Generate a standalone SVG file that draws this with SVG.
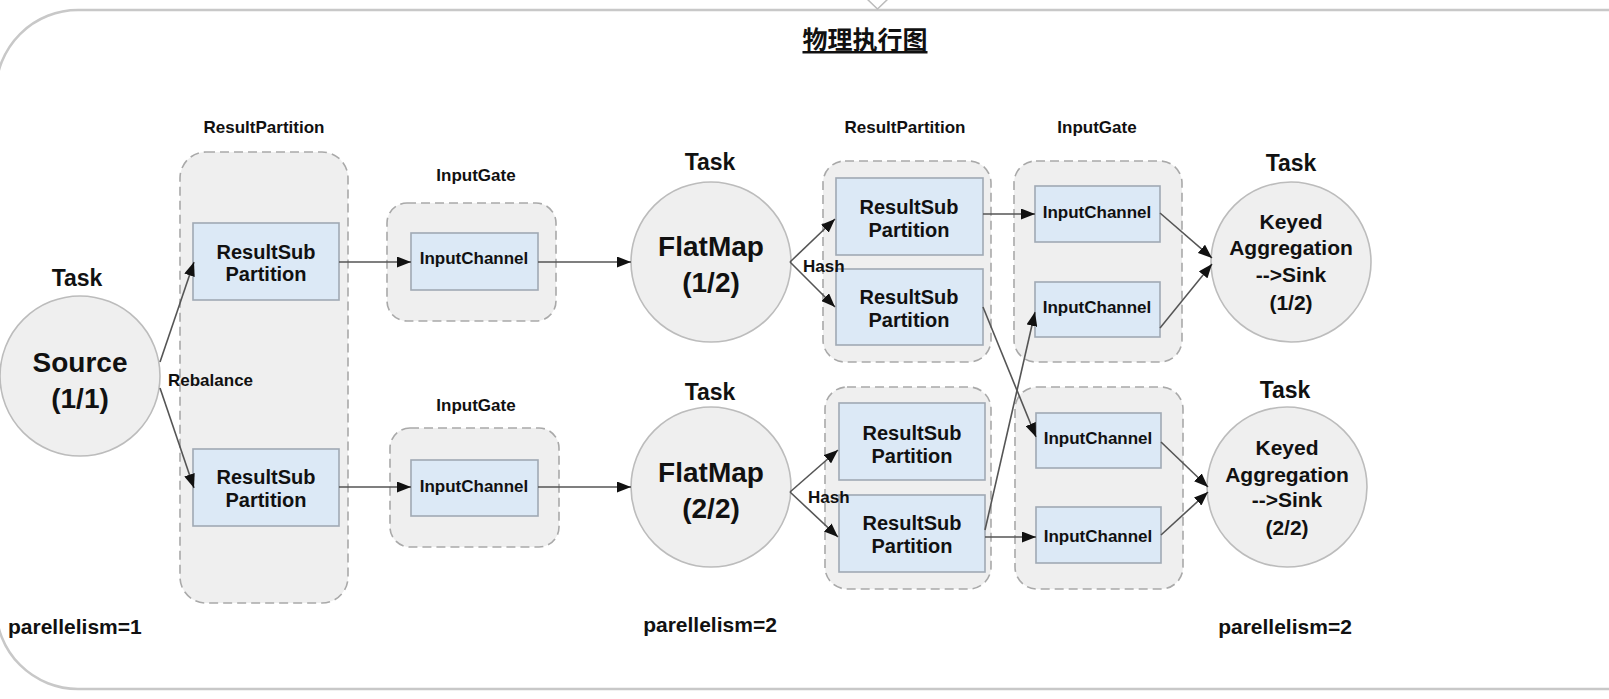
<svg xmlns="http://www.w3.org/2000/svg" width="1609" height="699" viewBox="0 0 1609 699">
<defs>
<style>
text{font-family:"Liberation Sans",Arial,"Noto Sans CJK SC",sans-serif;font-weight:bold;fill:#111;text-anchor:middle}
.frame{fill:#fff;stroke:#c8c8c8;stroke-width:2.5}
.cont{fill:#efefef;stroke:#a9a9a9;stroke-width:1.6;stroke-dasharray:9 5}
.box{fill:#dce9f6;stroke:#a0a9b4;stroke-width:1.6}
.circ{fill:#efefef;stroke:#bcbcbc;stroke-width:1.6}
.lbl{font-size:17px}
.task{font-size:23px}
.big{font-size:28px}
.rs{font-size:20px}
.ic{font-size:17px}
.ka{font-size:21px}
.par{font-size:21px}
.conn path{fill:none;stroke:#555;stroke-width:1.6;marker-end:url(#ah)}
</style>
<marker id="ah" viewBox="0 0 14 11" refX="14" refY="5.5" markerWidth="14" markerHeight="11" orient="auto" markerUnits="userSpaceOnUse">
<path d="M0,0 L14,5.5 L0,11 z" fill="#111"/>
</marker>
</defs>
<rect width="1609" height="699" fill="#fff"/>
<rect class="frame" x="-4" y="10" width="1800" height="679" rx="82" ry="82"/>
<polygon points="866,-2 889,-2 877.5,9" fill="#fff" stroke="#bcbcbc" stroke-width="1.5"/>
<text x="865" y="49" style="font-size:25px;text-decoration:underline">物理执行图</text>

<g id="source">
<text class="task" x="77" y="286">Task</text>
<circle class="circ" cx="80" cy="376" r="80"/>
<text class="big" x="80" y="372">Source</text>
<text class="big" x="80" y="408">(1/1)</text>
</g>

<g id="rp1">
<text class="lbl" x="264" y="133">ResultPartition</text>
<rect class="cont" x="180" y="152" width="168" height="451" rx="26"/>
</g>
<g id="rs1">
<rect class="box" x="193" y="223" width="146" height="77"/>
<text class="rs" x="266" y="259">ResultSub</text>
<text class="rs" x="266" y="281">Partition</text>
</g>
<g id="rs2">
<rect class="box" x="193" y="449" width="146" height="77"/>
<text class="rs" x="266" y="484">ResultSub</text>
<text class="rs" x="266" y="507">Partition</text>
</g>

<g id="ig1">
<text class="lbl" x="476" y="181">InputGate</text>
<rect class="cont" x="387" y="203" width="169" height="118" rx="20"/>
<rect class="box" x="411" y="233" width="127" height="57"/>
<text class="ic" x="474" y="264">InputChannel</text>
</g>
<g id="ig2">
<text class="lbl" x="476" y="411">InputGate</text>
<rect class="cont" x="390" y="428" width="169" height="119" rx="20"/>
<rect class="box" x="411" y="460" width="127" height="56"/>
<text class="ic" x="474" y="492">InputChannel</text>
</g>

<g id="flatmap1">
<text class="task" x="710" y="170">Task</text>
<circle class="circ" cx="711" cy="262" r="80"/>
<text class="big" x="711" y="256">FlatMap</text>
<text class="big" x="711" y="292">(1/2)</text>
</g>
<g id="flatmap2">
<text class="task" x="710" y="400">Task</text>
<circle class="circ" cx="711" cy="487" r="80"/>
<text class="big" x="711" y="482">FlatMap</text>
<text class="big" x="711" y="518">(2/2)</text>
</g>

<g id="rp2">
<text class="lbl" x="905" y="133">ResultPartition</text>
<rect class="cont" x="823" y="161" width="168" height="201" rx="22"/>
<rect class="box" x="836" y="178" width="147" height="77"/>
<text class="rs" x="909" y="214">ResultSub</text>
<text class="rs" x="909" y="237">Partition</text>
<rect class="box" x="836" y="269" width="147" height="76"/>
<text class="rs" x="909" y="304">ResultSub</text>
<text class="rs" x="909" y="327">Partition</text>
</g>
<g id="rp3">
<rect class="cont" x="825" y="387" width="166" height="202" rx="22"/>
<rect class="box" x="839" y="403" width="146" height="77"/>
<text class="rs" x="912" y="440">ResultSub</text>
<text class="rs" x="912" y="463">Partition</text>
<rect class="box" x="839" y="495" width="146" height="77"/>
<text class="rs" x="912" y="530">ResultSub</text>
<text class="rs" x="912" y="553">Partition</text>
</g>

<g id="ig3">
<text class="lbl" x="1097" y="133">InputGate</text>
<rect class="cont" x="1014" y="161" width="168" height="201" rx="22"/>
<rect class="box" x="1035" y="186" width="125" height="56"/>
<text class="ic" x="1097" y="218">InputChannel</text>
<rect class="box" x="1035" y="282" width="125" height="55"/>
<text class="ic" x="1097" y="313">InputChannel</text>
</g>
<g id="ig4">
<rect class="cont" x="1015" y="387" width="168" height="202" rx="22"/>
<rect class="box" x="1036" y="413" width="125" height="55"/>
<text class="ic" x="1098" y="444">InputChannel</text>
<rect class="box" x="1036" y="507" width="125" height="56"/>
<text class="ic" x="1098" y="542">InputChannel</text>
</g>

<g id="keyed1">
<text class="task" x="1291" y="171">Task</text>
<circle class="circ" cx="1291" cy="262" r="80"/>
<text class="ka" x="1291" y="229">Keyed</text>
<text class="ka" x="1291" y="255">Aggregation</text>
<text class="ka" x="1291" y="282">--&gt;Sink</text>
<text class="ka" x="1291" y="310">(1/2)</text>
</g>
<g id="keyed2">
<text class="task" x="1285" y="398">Task</text>
<circle class="circ" cx="1287" cy="487" r="80"/>
<text class="ka" x="1287" y="455">Keyed</text>
<text class="ka" x="1287" y="482">Aggregation</text>
<text class="ka" x="1287" y="507">--&gt;Sink</text>
<text class="ka" x="1287" y="535">(2/2)</text>
</g>

<g class="conn" id="connectors">
<path d="M160,362 L194,262"/>
<path d="M160,388 L194,488"/>
<path d="M339,262 L411,262"/>
<path d="M339,487 L411,487"/>
<path d="M538,262 L631,262"/>
<path d="M538,487 L631,487"/>
<path d="M790,262 L835,219"/>
<path d="M790,262 L835,307"/>
<path d="M790,492 L838,450"/>
<path d="M790,492 L838,537"/>
<path d="M983,214 L1035,214"/>
<path d="M983,307 L1036,437"/>
<path d="M985,530 L1035,312"/>
<path d="M985,537 L1036,537"/>
<path d="M1160,213 L1212,258"/>
<path d="M1160,328 L1212,264"/>
<path d="M1161,442 L1208,487"/>
<path d="M1161,535 L1208,492"/>
</g>
<g id="labels">
<text class="lbl" x="168" y="386" style="text-anchor:start">Rebalance</text>
<text class="lbl" x="803" y="272" style="text-anchor:start">Hash</text>
<text class="lbl" x="808" y="503" style="text-anchor:start">Hash</text>
<text class="par" x="8" y="634" style="text-anchor:start">parellelism=1</text>
<text class="par" x="710" y="632">parellelism=2</text>
<text class="par" x="1285" y="634">parellelism=2</text>
</g>
</svg>
